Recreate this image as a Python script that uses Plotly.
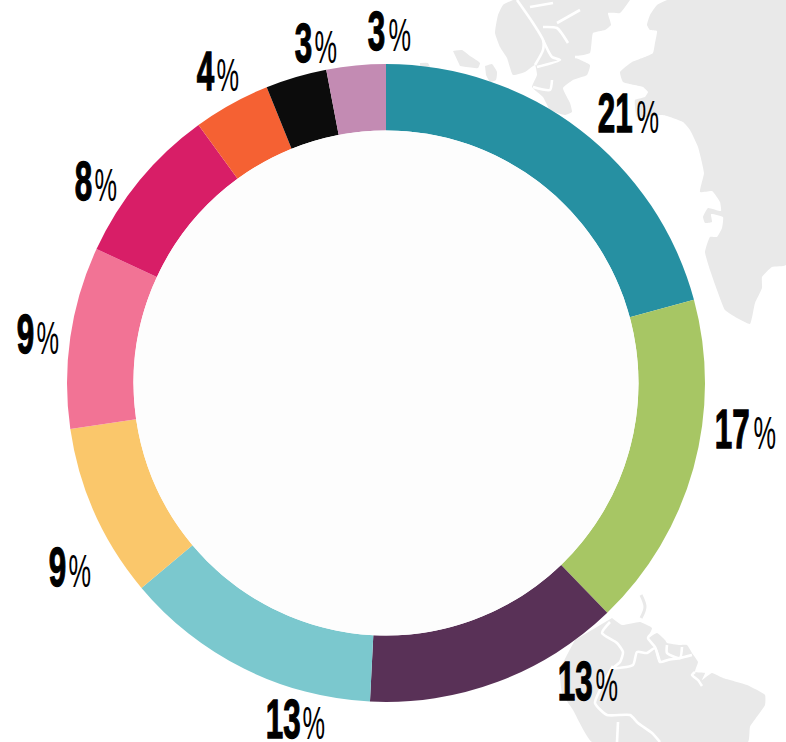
import plotly.graph_objects as go

W, H = 786, 742
CX, CY, R, R_IN = 386, 383, 319, 252.5

# Share of each ring segment, clockwise from 12 o'clock
categories = ["A", "B", "C", "D", "E", "F", "G", "H", "I", "J"]
values = [20.8, 17.0, 13.0, 13.1, 8.8, 9.2, 8.1, 3.9, 3.1, 3.0]
labels = ["21", "17", "13", "13", "9", "9", "8", "4", "3", "3"]
colors = ["#2690a2", "#a7c664", "#593157", "#7bc8ce", "#fac76b",
          "#f27395", "#d81e67", "#f56133", "#0c0c0c", "#c38bb3"]
digit_x = [614.5, 731.5, 574.5, 282.5, 57, 25, 83, 205, 303.5, 376]
pct_x = [647.5, 764.5, 606.5, 313.5, 79.5, 47.5, 106, 227.5, 326, 399.5]
label_y = [112, 428, 680, 718, 566, 333, 180, 70, 42, 30]

GREY = "#e9e9e9"

# Decorative map backdrop
greenland = [(667,0),(657,5),(650,15),(647,25),(650,30),(657,31),(655,43),(653,53),(645,57),(632,62),(620,72),(623,82),
             (643,87),(648,92),(645,97),(635,100),(637,117),(663,115),(683,122),(690,130),(698,147),(704,173),(700,192),
             (712,191),(720,202),(721,211),(708,208),(703,217),(705,223),(712,222),(711,214),(723,217),(722,228),(717,237),
             (710,237),(705,252),(710,270),(717,290),(725,310),(737,318),(750,324),(755,303),(762,288),(762,277),(772,267),
             (786,265),(786,0)]
arctic = [(513,0),(503,5),(498,15),(495,33),(500,47),(507,58),(513,75),(525,72),(535,65),(537,75),(532,87),(543,97),
          (550,110),(565,115),(572,112),(570,103),(563,88),(573,80),(587,75),(590,65),(575,57),(590,53),(593,33),
          (605,30),(611,25),(608,13),(620,13),(630,0)]
island_a = [(485,66),(492,64),(497,72),(496,80),(490,82),(486,75)]
island_b = [(453,51),(462,50),(470,56),(480,63),(478,68),(460,66)]
island_c = [(420,63),(428,63),(430,68),(420,68)]
samerica = [(612,618),(622,625),(640,622),(652,628),(648,638),(657,633),(665,640),(667,643),(680,645),(687,645),
            (692,653),(698,662),(695,672),(705,673),(702,680),(712,673),(723,678),(747,685),(765,695),(765,705),
            (750,727),(748,742),(592,742),(573,710),(562,693),(560,670),(575,640)]
land = [greenland, arctic, island_a, island_b, island_c, samerica]

channels = [
    [(517,0),(533,23),(543,40),(543,50),(535,65)],
    [(530,7),(553,3)],
    [(543,27),(557,28),(568,43)],
    [(543,40),(552,57),(560,60),(537,67)],
    [(557,23),(580,10)],
    [(575,57),(588,57)],
    [(533,87),(550,90),(552,80)],
    [(610,622),(602,633),(617,643),(623,652),(620,662),(613,668),(633,665),(637,652),(647,653),(655,648),(660,662),
     (668,660),(680,658),(692,655)],
    [(613,666),(600,690),(595,703),(607,715),(630,715),(638,723),(652,733),(660,742)],
    [(618,722),(617,742)],
    [(652,633),(648,638),(655,647),(660,662)],
    [(667,645),(667,653),(680,658),(682,647)],
    [(695,672),(692,675),(698,680),(702,686)],
]
grey_strokes = [[(641,595),(645,607),(641,618)]]

fig = go.Figure()
for poly in land:
    fig.add_trace(go.Scatter(x=[p[0] for p in poly], y=[p[1] for p in poly], mode="lines", fill="toself",
                             fillcolor=GREY, line=dict(width=0, color=GREY, shape="spline", smoothing=0.4),
                             hoverinfo="skip", showlegend=False))
for path in channels:
    fig.add_trace(go.Scatter(x=[p[0] for p in path], y=[p[1] for p in path], mode="lines",
                             line=dict(width=2.6, color="#ffffff", shape="spline", smoothing=0.6),
                             hoverinfo="skip", showlegend=False))
for path in grey_strokes:
    fig.add_trace(go.Scatter(x=[p[0] for p in path], y=[p[1] for p in path], mode="lines",
                             line=dict(width=3, color=GREY, shape="spline"), hoverinfo="skip", showlegend=False))

fig.add_trace(go.Pie(labels=categories, values=values, hole=R_IN / R, sort=False, direction="clockwise", rotation=0,
                     marker=dict(colors=colors, line=dict(width=0)), textinfo="none", showlegend=False,
                     domain=dict(x=[(CX - R) / W, (CX + R) / W], y=[1 - (CY + R) / H, 1 - (CY - R) / H])))

annotations = []
for t, dx, px, y in zip(labels, digit_x, pct_x, label_y):
    annotations.append(dict(x=dx, y=y, xref="x", yref="y", showarrow=False, xanchor="center", yanchor="middle",
                            text=f'<b style="stroke:#000;stroke-width:1.3px">{t}</b>',
                            font=dict(family="Liberation Sans", size=56, color="#000000")))
    annotations.append(dict(x=px, y=y + 4, xref="x", yref="y", showarrow=False, xanchor="center", yanchor="middle",
                            text="%", font=dict(family="Liberation Sans", size=47, color="#000000")))

fig.update_layout(width=W, height=H, margin=dict(l=0, r=0, t=0, b=0), paper_bgcolor="#ffffff", plot_bgcolor="#ffffff",
                  xaxis=dict(range=[0, W], visible=False), yaxis=dict(range=[H, 0], visible=False),
                  annotations=annotations,
                  shapes=[dict(type="circle", xref="x", yref="y", x0=CX - R_IN, x1=CX + R_IN, y0=CY - R_IN, y1=CY + R_IN,
                               fillcolor="#fdfdfd", line=dict(width=0), layer="above")])

# Page margin off; condense the labels horizontally, since the reference face is a narrow display cut
post = """
document.body.style.margin='0';
document.querySelectorAll('.annotation-text').forEach(function(t){
  var b=t.getBBox(), c=b.x+b.width/2, s=t.textContent==='%'?0.54:0.56;
  t.setAttribute('transform','translate('+c+' 0) scale('+s+' 1) translate('+(-c)+' 0)');
});
"""
fig.write_html("out.html", config=dict(displayModeBar=False), post_script=post)
